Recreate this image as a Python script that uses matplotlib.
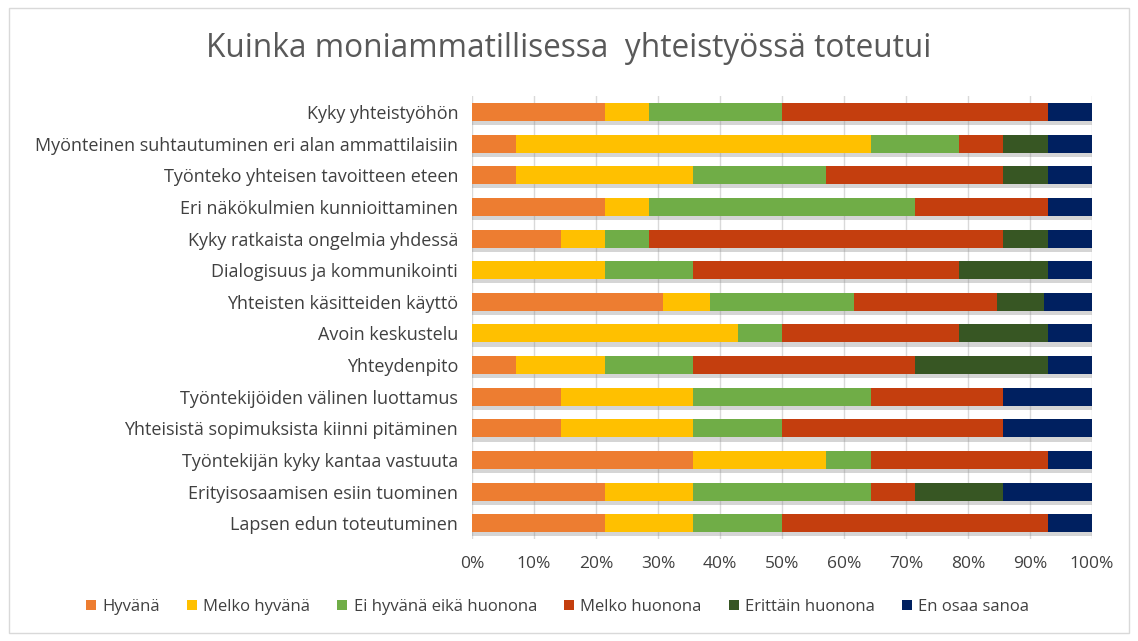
import numpy as np
import matplotlib.pyplot as plt
import matplotlib.patheffects as pe
from matplotlib.patches import Rectangle, Patch
from matplotlib.ticker import PercentFormatter

plt.rcParams["font.family"] = ["Open Sans", "DejaVu Sans"]

categories = [
    "Kyky yhteistyöhön",
    "Myönteinen suhtautuminen eri alan ammattilaisiin",
    "Työnteko yhteisen tavoitteen eteen",
    "Eri näkökulmien kunnioittaminen",
    "Kyky ratkaista ongelmia yhdessä",
    "Dialogisuus ja kommunikointi",
    "Yhteisten käsitteiden käyttö",
    "Avoin keskustelu",
    "Yhteydenpito",
    "Työntekijöiden välinen luottamus",
    "Yhteisistä sopimuksista kiinni pitäminen",
    "Työntekijän kyky kantaa vastuuta",
    "Erityisosaamisen esiin tuominen",
    "Lapsen edun toteutuminen",
]
series = ["Hyvänä", "Melko hyvänä", "Ei hyvänä eikä huonona",
          "Melko huonona", "Erittäin huonona", "En osaa sanoa"]

# answer counts per category
hyvana = [3, 1, 1, 3, 2, 0, 4, 0, 1, 2, 2, 5, 3, 3]
melko_hyvana = [1, 8, 4, 1, 1, 3, 1, 6, 2, 3, 3, 3, 2, 2]
ei_hyva_ei_huono = [3, 2, 3, 6, 1, 2, 3, 1, 2, 4, 2, 1, 4, 2]
melko_huonona = [6, 1, 4, 3, 8, 6, 3, 4, 5, 3, 5, 4, 1, 6]
erittain_huonona = [0, 1, 1, 0, 1, 2, 1, 2, 3, 0, 0, 0, 2, 0]
en_osaa = [1, 1, 1, 1, 1, 1, 1, 1, 1, 2, 2, 1, 2, 1]

colors = ["#ED7D31", "#FFC000", "#70AD47", "#C43E0E", "#375623", "#002060"]

counts = np.array([hyvana, melko_hyvana, ei_hyva_ei_huono,
                   melko_huonona, erittain_huonona, en_osaa], dtype=float)
shares = counts / counts.sum(axis=0) * 100

fig = plt.figure(figsize=(11.38, 6.41), dpi=100)
ax = fig.add_axes([0.4148, 0.159, 0.5448, 0.691])

y = np.arange(len(categories))[::-1]
left = np.zeros(len(categories))
shadow = [pe.SimplePatchShadow(offset=(0, -3), shadow_rgbFace="#888888", alpha=0.35), pe.Normal()]
for name, vals, col in zip(series, shares, colors):
    bars = ax.barh(y, vals, left=left, height=0.57, color=col, zorder=3)
    for b in bars:
        b.set_path_effects(shadow)
    left += vals

ax.set_xlim(0, 100)
ax.set_ylim(-0.5, len(categories) - 0.5)
ax.set_xticks(np.arange(0, 101, 10))
ax.xaxis.set_major_formatter(PercentFormatter(decimals=0))
ax.set_yticks(y)
ax.set_yticklabels(categories, fontsize=13)
ax.tick_params(axis="both", length=0, colors="#404040")
ax.tick_params(axis="x", labelsize=12.5, pad=12)
ax.tick_params(axis="y", pad=10)
ax.grid(axis="x", color="#D9D9D9", linewidth=1, zorder=0)
for s in ax.spines.values():
    s.set_visible(False)

fig.text(0.5, 0.925, "Kuinka moniammatillisessa  yhteistyössä toteutui",
         ha="center", va="center", fontsize=22.8, color="#595959")

handles = [Patch(facecolor=c, label=n) for n, c in zip(series, colors)]
fig.legend(handles=handles, loc="center", bbox_to_anchor=(0.49, 0.053), ncol=6,
           frameon=False, fontsize=12, handlelength=0.6, handleheight=0.6,
           handletextpad=0.4, columnspacing=1.6, labelcolor="#404040")

fig.patches.append(Rectangle((0.008, 0.012), 0.984, 0.976, transform=fig.transFigure,
                             fill=False, edgecolor="#D9D9D9", linewidth=1))

fig.savefig("out.png", dpi=100)
